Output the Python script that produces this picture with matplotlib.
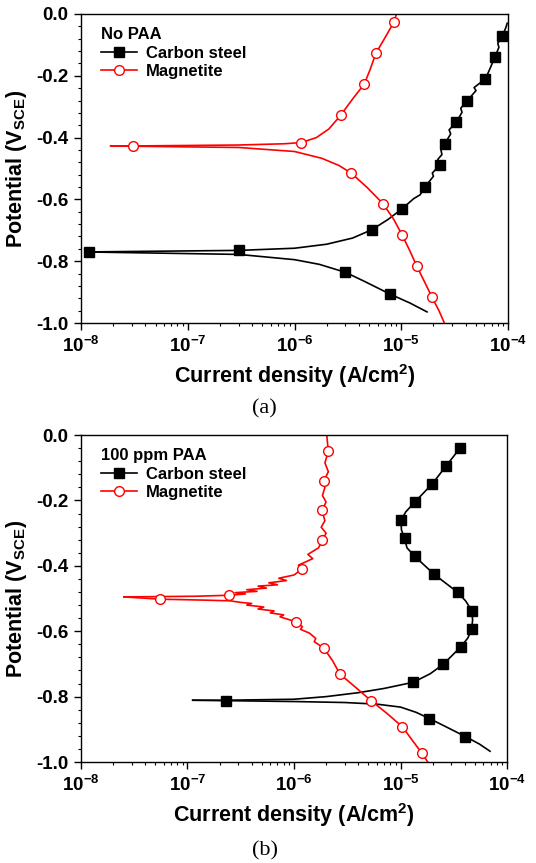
import numpy as np
import matplotlib
matplotlib.use("Agg")
import matplotlib.pyplot as plt
from matplotlib.ticker import FuncFormatter, LogLocator, MultipleLocator, NullFormatter
from matplotlib.lines import Line2D

plt.rcParams['font.family'] = ['Liberation Sans', 'DejaVu Sans']
plt.rcParams['font.weight'] = 'bold'
plt.rcParams['mathtext.fontset'] = 'custom'
plt.rcParams['mathtext.bf'] = 'Liberation Sans:bold'
plt.rcParams['mathtext.rm'] = 'Liberation Sans:bold'
plt.rcParams['mathtext.default'] = 'bf'
plt.rcParams['axes.unicode_minus'] = False

# ---- (a) No PAA ----
a_cs_an_i = [1.1e-8, 3.0e-7, 1.0e-6, 2.0e-6, 3.5e-6, 5.3e-6, 7.5e-6, 1.02e-5, 1.3e-5, 1.5e-5,
             1.66e-5, 2.0e-5, 1.95e-5, 2.29e-5, 2.2e-5, 2.4e-5, 2.35e-5, 2.55e-5, 2.9e-5, 2.8e-5,
             3.28e-5, 3.7e-5, 3.6e-5, 4.16e-5, 5.0e-5, 4.8e-5, 6.13e-5, 6.8e-5, 7.5e-5, 8.2e-5,
             8.0e-5, 8.85e-5, 9.5e-5, 9.8e-5]
a_cs_an_E = [-0.770, -0.765, -0.758, -0.745, -0.725, -0.698, -0.665, -0.630, -0.598, -0.585,
             -0.560, -0.525, -0.515, -0.488, -0.470, -0.455, -0.440, -0.420, -0.388, -0.375,
             -0.350, -0.318, -0.305, -0.280, -0.248, -0.238, -0.210, -0.175, -0.140, -0.108,
             -0.095, -0.070, -0.045, -0.030]
a_cs_ca_i = [1.1e-8, 3.0e-7, 1.0e-6, 1.7e-6, 3.0e-6, 4.5e-6, 7.9e-6, 1.2e-5, 1.74e-5]
a_cs_ca_E = [-0.770, -0.778, -0.795, -0.810, -0.836, -0.865, -0.907, -0.935, -0.964]
a_cs_mk_i = [1.2e-8, 3.03e-7, 5.26e-6, 1.02e-5, 1.66e-5, 2.29e-5, 2.55e-5, 3.28e-5, 4.16e-5,
             6.13e-5, 7.5e-5, 8.85e-5, 3.0e-6, 7.9e-6]
a_cs_mk_E = [-0.770, -0.765, -0.698, -0.630, -0.560, -0.488, -0.420, -0.350, -0.280,
             -0.210, -0.140, -0.070, -0.836, -0.907]

a_mg_an_i = [1.9e-8, 3.1e-8, 3e-7, 8e-7, 1.16e-6, 1.6e-6, 2.1e-6, 2.7e-6, 3.5e-6, 4.49e-6,
             5.1e-6, 5.78e-6, 7.0e-6, 8.5e-6, 9.0e-6]
a_mg_an_E = [-0.427, -0.427, -0.424, -0.420, -0.416, -0.400, -0.372, -0.328, -0.275, -0.227,
             -0.180, -0.127, -0.078, -0.027, 0.0]
a_mg_ca_i = [1.9e-8, 3e-7, 1.0e-6, 1.8e-6, 2.6e-6, 3.4e-6, 4.8e-6, 6.78e-6, 8.5e-6, 1.02e-5,
             1.2e-5, 1.40e-5, 1.65e-5, 1.94e-5, 2.25e-5, 2.53e-5]
a_mg_ca_E = [-0.427, -0.432, -0.445, -0.467, -0.490, -0.515, -0.562, -0.615, -0.665, -0.716,
             -0.766, -0.817, -0.867, -0.917, -0.960, -1.0]
a_mg_mk_i = [3.09e-8, 1.16e-6, 2.70e-6, 4.49e-6, 5.78e-6, 8.5e-6, 3.4e-6, 6.78e-6, 1.02e-5,
             1.40e-5, 1.94e-5]
a_mg_mk_E = [-0.427, -0.416, -0.328, -0.227, -0.127, -0.027, -0.515, -0.615, -0.716,
             -0.817, -0.917]

# ---- (b) 100 ppm PAA ----
b_cs_an_i = [1.12e-7, 2.3e-7, 1.0e-6, 2.0e-6, 4.0e-6, 7.0e-6, 1.32e-5, 1.9e-5, 2.52e-5, 3.70e-5,
             4.3e-5, 4.66e-5, 4.75e-5, 4.66e-5, 4.1e-5, 3.44e-5, 2.07e-5, 1.36e-5, 1.15e-5, 1.09e-5,
             1.02e-5, 1.01e-5, 1.12e-5, 1.36e-5, 1.99e-5, 2.67e-5, 3.62e-5]
b_cs_an_E = [-0.811, -0.811, -0.808, -0.800, -0.788, -0.775, -0.756, -0.730, -0.701, -0.647,
             -0.620, -0.592, -0.565, -0.537, -0.508, -0.481, -0.426, -0.371, -0.345, -0.316,
             -0.290, -0.261, -0.235, -0.205, -0.149, -0.095, -0.040]
b_cs_ca_i = [1.12e-7, 1.0e-6, 3.0e-6, 6.0e-6, 1.0e-5, 1.4e-5, 1.87e-5, 2.7e-5, 4.06e-5, 5.5e-5, 6.92e-5]
b_cs_ca_E = [-0.811, -0.815, -0.818, -0.823, -0.832, -0.848, -0.867, -0.893, -0.922, -0.945, -0.967]
b_cs_mk_i = [2.30e-7, 1.32e-5, 2.52e-5, 3.70e-5, 4.66e-5, 4.66e-5, 3.44e-5, 2.07e-5, 1.36e-5,
             1.09e-5, 1.01e-5, 1.36e-5, 1.99e-5, 2.67e-5, 3.62e-5, 1.87e-5, 4.06e-5]
b_cs_mk_E = [-0.813, -0.756, -0.701, -0.647, -0.592, -0.537, -0.481, -0.426, -0.371,
             -0.316, -0.261, -0.205, -0.149, -0.095, -0.040, -0.867, -0.922]

b_mg_an_i = [2.53e-8, 5.56e-8, 1.2e-7, 2.44e-7, 3.5e-7, 2.8e-7, 4.5e-7, 3.6e-7, 5.5e-7, 4.6e-7,
             7.0e-7, 5.8e-7, 8.5e-7, 7.2e-7, 1.0e-6, 1.2e-6, 1.1e-6, 1.5e-6, 1.35e-6, 1.7e-6,
             1.85e-6, 2.0e-6, 1.8e-6, 1.95e-6, 1.83e-6, 2.0e-6, 1.85e-6, 1.95e-6, 1.91e-6, 2.1e-6,
             1.95e-6, 2.1e-6, 2.03e-6]
b_mg_an_E = [-0.495, -0.494, -0.493, -0.490, -0.486, -0.482, -0.478, -0.473, -0.468, -0.462,
             -0.458, -0.452, -0.445, -0.438, -0.428, -0.409, -0.398, -0.378, -0.365, -0.345,
             -0.321, -0.300, -0.282, -0.262, -0.230, -0.205, -0.185, -0.160, -0.140, -0.112,
             -0.085, -0.050, 0.0]
b_mg_ca_i = [2.53e-8, 5.56e-8, 1.5e-7, 2.5e-7, 3.2e-7, 4.0e-7, 3.6e-7, 5.2e-7, 4.6e-7, 6.5e-7,
             6.0e-7, 8.0e-7, 7.4e-7, 1.04e-6, 1.2e-6, 1.15e-6, 1.4e-6, 1.6e-6, 1.55e-6, 1.91e-6,
             2.3e-6, 2.70e-6, 3.8e-6, 5.32e-6, 7.5e-6, 1.04e-5, 1.3e-5, 1.58e-5, 1.80e-5]
b_mg_ca_E = [-0.495, -0.502, -0.505, -0.507, -0.512, -0.515, -0.520, -0.526, -0.532, -0.538,
             -0.544, -0.550, -0.556, -0.571, -0.586, -0.594, -0.606, -0.622, -0.632, -0.652,
             -0.690, -0.731, -0.772, -0.813, -0.852, -0.892, -0.935, -0.972, -1.0]
b_mg_mk_i = [5.56e-8, 2.44e-7, 1.20e-6, 1.85e-6, 1.83e-6, 1.91e-6, 2.10e-6, 1.04e-6, 1.91e-6,
             2.70e-6, 5.32e-6, 1.04e-5, 1.58e-5]
b_mg_mk_E = [-0.502, -0.490, -0.409, -0.321, -0.230, -0.140, -0.050, -0.571, -0.652,
             -0.731, -0.813, -0.892, -0.972]

panels = [
    ("No PAA", "(a)",
     (a_cs_an_i, a_cs_an_E, a_cs_ca_i, a_cs_ca_E, a_cs_mk_i, a_cs_mk_E),
     (a_mg_an_i, a_mg_an_E, a_mg_ca_i, a_mg_ca_E, a_mg_mk_i, a_mg_mk_E)),
    ("100 ppm PAA", "(b)",
     (b_cs_an_i, b_cs_an_E, b_cs_ca_i, b_cs_ca_E, b_cs_mk_i, b_cs_mk_E),
     (b_mg_an_i, b_mg_an_E, b_mg_ca_i, b_mg_ca_E, b_mg_mk_i, b_mg_mk_E)),
]
series_names = ["Carbon steel", "Magnetite"]

fig = plt.figure(figsize=(5.36, 8.63), dpi=100)
boxes = [[0.151, 0.6257, 0.797, 0.3581], [0.151, 0.1170, 0.795, 0.3789]]
label_y = [0.526, 0.014]


def exp_fmt(v, pos):
    e = int(round(np.log10(v)))
    return r'$\mathbf{10^{%d}}$' % e


for k, (title, tag, cs, mg) in enumerate(panels):
    ax = fig.add_axes(boxes[k])
    ax.set_xscale('log')
    for d, color, mk, mfc in [(cs, 'black', 's', 'black'), (mg, 'red', 'o', 'white')]:
        ax.plot(d[0], d[1], color=color, lw=1.2)
        ax.plot(d[2], d[3], color=color, lw=1.2)
        ax.plot(d[4], d[5], ls='none', marker=mk, ms=7, mfc=mfc, mec=color, mew=1.0)
    ax.set_xlim(1e-8, 1e-4)
    ax.set_ylim(-1.0, 0.0)
    ax.xaxis.set_major_locator(LogLocator(base=10, numticks=10))
    ax.xaxis.set_minor_locator(LogLocator(base=10, subs=np.arange(2, 10), numticks=20))
    ax.xaxis.set_major_formatter(FuncFormatter(exp_fmt))
    ax.xaxis.set_minor_formatter(NullFormatter())
    ax.yaxis.set_major_locator(MultipleLocator(0.2))
    ax.yaxis.set_minor_locator(MultipleLocator(0.04))
    ax.yaxis.set_major_formatter(FuncFormatter(lambda v, p: '%.1f' % v))
    ax.tick_params(which='major', direction='out', length=5, width=1, labelsize=13.5, pad=4)
    ax.tick_params(which='minor', direction='out', length=2.5, width=0.8)
    for lab in ax.get_yticklabels():
        lab.set_fontweight('bold')
    for s in ax.spines.values():
        s.set_linewidth(1.0)
    ax.set_xlabel(r'Current density (A/cm$^{\mathbf{2}}$)', fontsize=15.5, fontweight='bold', labelpad=5)
    ax.set_ylabel(r'Potential (V$_{\mathbf{SCE}}$)', fontsize=15.5, fontweight='bold', labelpad=5)

    handles = [Line2D([], [], color='black', lw=1.2, marker='s', ms=7, mfc='black', mec='black'),
               Line2D([], [], color='red', lw=1.2, marker='o', ms=7, mfc='white', mec='red')]
    leg = ax.legend(handles, series_names, title=title, loc='upper left', frameon=False,
                    bbox_to_anchor=(0.015, 1.0),
                    fontsize=12, handlelength=2.2, handletextpad=0.5, labelspacing=0.2,
                    borderaxespad=0.4, alignment='left',
                    title_fontproperties={'weight': 'bold', 'size': 12})
    for t in leg.get_texts():
        t.set_fontweight('bold')

    fig.text(0.494, label_y[k], tag, family='Liberation Serif', fontsize=16,
             fontweight='normal', ha='center', va='center')

fig.savefig('out.png', dpi=100)
